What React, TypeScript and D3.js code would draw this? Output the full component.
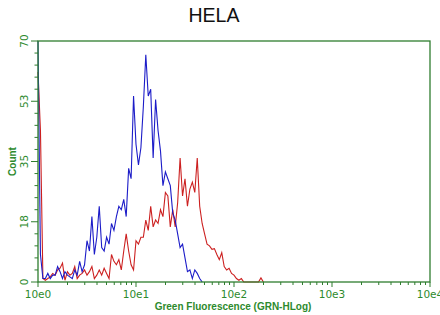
import * as d3 from 'd3'

// histogram channels, 40 per decade starting at 10e0
const CHANNELS_PER_DECADE = 40

const blueCounts = [
  85, 8, 1, 1, 2.5, 1, 2, 2, 4.5, 3,
  1, 3, 2, 1.5, 1, 3.5, 2, 6, 3, 5,
  12, 9, 19, 8, 13, 22, 10, 9, 13, 11,
  17, 15, 19, 22, 21, 24, 19, 33, 30, 54,
  40, 34, 39, 51, 66, 54, 56, 36, 53, 44,
  38, 28, 32, 30, 28, 20, 18, 14, 10, 11,
  7, 3, 3.5, 1, 3.5, 2.5, 1, 0,
]

const redCounts = [
  61, 44, 1, 0.5, 1, 1.5, 2.5, 2, 3.5, 4,
  5.5, 0.5, 3, 2, 2.5, 4.5, 1, 2, 2.5, 3.5,
  2, 3, 4.5, 1, 2, 3.5, 2, 4, 2.5, 1,
  8, 6, 5, 6.5, 3.5, 9, 14, 9, 5, 3.5,
  12, 11, 13, 13, 18, 15, 22, 16, 18, 17,
  21, 19, 26, 25, 16, 21, 16, 23, 36, 25,
  30, 22, 27, 29, 26, 36, 22, 17, 14, 11,
  10.5, 9.5, 9.7, 8, 6.5, 8.5, 4.5, 3.5, 4, 2.5,
  2, 1, 0.5, 1, 0, 0, 0, 0, 0, 0,
  0, 1.2, 0,
]

const xTickValues = [1, 10, 100, 1000, 10000]
const xTickLabels = ['10e0', '10e1', '10e2', '10e3', '10e4']
const yTickValues = [0, 17.5, 35, 52.5, 70]
const yTickLabels = ['0', '18', '35', '53', '70']
const yMinorStep = 3.5

const WIDTH = 440
const HEIGHT = 315
const PLOT = { left: 38, right: 430, top: 41, bottom: 282 }
const AXIS = '#2e7d2e'
const LABEL = '#2d8a2d'
const BLUE = '#1c1cc8'
const RED = '#cc2020'

const channelValue = (i: number) => Math.pow(10, i / CHANNELS_PER_DECADE)

export default function App() {
  const x = d3.scaleLog().domain([1, 10000]).range([PLOT.left, PLOT.right])
  const y = d3.scaleLinear().domain([0, 70]).range([PLOT.bottom, PLOT.top]).clamp(true)

  const line = d3
    .line<number>()
    .x((_, i) => x(channelValue(i)))
    .y((d) => y(d))

  const xMinor = x.ticks().filter((t) => !xTickValues.includes(t))
  const yMinor = d3.range(0, 70 + 0.01, yMinorStep).filter((t) => !yTickValues.includes(t))

  return (
    <svg
      width={WIDTH}
      height={HEIGHT}
      style={{ position: 'absolute', left: 0, top: 0, background: '#fff' }}
    >
      <text
        x={214}
        y={22}
        textAnchor="middle"
        fontFamily="'Liberation Sans', Arial, sans-serif"
        fontSize={19.5}
        fill="#111"
      >
        HELA
      </text>

      <path d={line(redCounts) ?? ''} fill="none" stroke={RED} strokeWidth={1.1} />
      <path d={line(blueCounts) ?? ''} fill="none" stroke={BLUE} strokeWidth={1.1} />

      {/* frame */}
      <rect
        x={PLOT.left}
        y={PLOT.top}
        width={PLOT.right - PLOT.left}
        height={PLOT.bottom - PLOT.top}
        fill="none"
        stroke={AXIS}
        strokeWidth={1.3}
      />

      {/* x ticks */}
      {xMinor.map((t) => (
        <line key={`xm${t}`} x1={x(t)} x2={x(t)} y1={PLOT.bottom} y2={PLOT.bottom + 3} stroke={AXIS} />
      ))}
      {xTickValues.map((t, i) => (
        <g key={`x${t}`}>
          <line x1={x(t)} x2={x(t)} y1={PLOT.bottom} y2={PLOT.bottom + 5} stroke={AXIS} />
          <text
            x={x(t)}
            y={297.5}
            textAnchor="middle"
            fontFamily="'DejaVu Sans', Verdana, sans-serif"
            fontSize={10.5}
            fill={LABEL}
          >
            {xTickLabels[i]}
          </text>
        </g>
      ))}

      {/* y ticks */}
      {yMinor.map((t) => (
        <line key={`ym${t}`} x1={PLOT.left - 3.5} x2={PLOT.left} y1={y(t)} y2={y(t)} stroke={AXIS} />
      ))}
      {yTickValues.map((t, i) => (
        <g key={`y${t}`}>
          <line x1={PLOT.left - 7} x2={PLOT.left} y1={y(t)} y2={y(t)} stroke={AXIS} />
          <text
            transform={`translate(27.5,${y(t)}) rotate(-90)`}
            textAnchor="middle"
            fontFamily="'DejaVu Sans', Verdana, sans-serif"
            fontSize={10.5}
            fill={LABEL}
          >
            {yTickLabels[i]}
          </text>
        </g>
      ))}

      <text
        x={233}
        y={309.5}
        textAnchor="middle"
        fontFamily="'Liberation Sans', Arial, sans-serif"
        fontWeight="bold"
        fontSize={10}
        fill={LABEL}
      >
        Green Fluorescence (GRN-HLog)
      </text>
      <text
        transform={`translate(15.5,${(PLOT.top + PLOT.bottom) / 2}) rotate(-90)`}
        textAnchor="middle"
        fontFamily="'Liberation Sans', Arial, sans-serif"
        fontWeight="bold"
        fontSize={10}
        fill={LABEL}
      >
        Count
      </text>
    </svg>
  )
}
